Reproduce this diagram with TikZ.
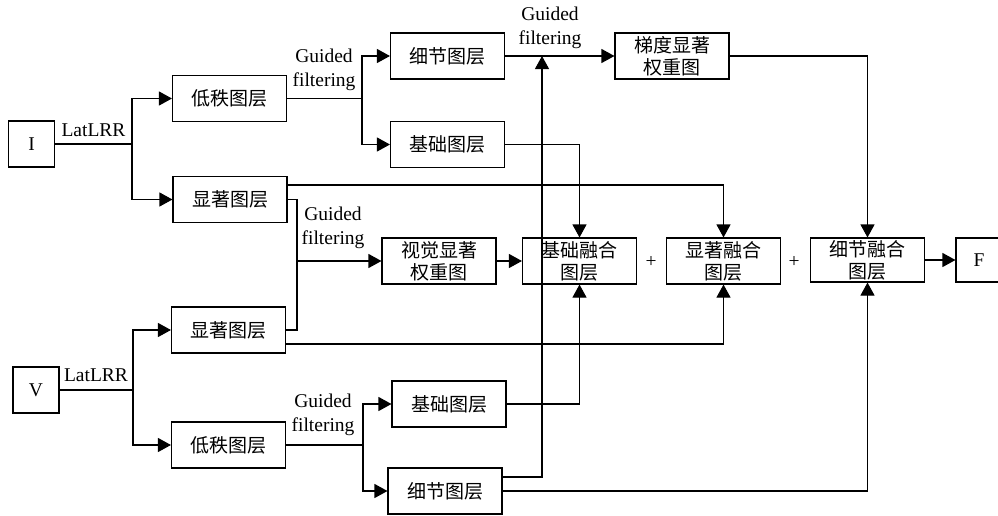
\documentclass[tikz,border=0pt]{standalone}
\usepackage{fontspec}
\setmainfont{Liberation Serif}
\newfontfamily\cjk{Noto Sans CJK SC}
\usetikzlibrary{arrows.meta}
\begin{document}
\begin{tikzpicture}[x=1pt,y=-1pt,
  every path/.style={line width=1.1pt},
  box/.style={draw, line width=1.1pt, inner sep=0pt, align=center,
    minimum height=46pt, minimum width=114pt,
    font=\cjk\fontsize{19}{22}\selectfont},
  sbox/.style={draw, line width=1.1pt, inner sep=0pt,
    minimum height=46pt, minimum width=46pt,
    font=\fontsize{19.5}{23}\selectfont},
  lbl/.style={font=\fontsize{19.5}{23.5}\selectfont, align=center, inner sep=0pt},
  arr/.style={-{Triangle[length=13pt,width=14pt]}}]
\useasboundingbox (0,0) rectangle (998,515);

% nodes
\node[sbox] (I) at (31.5,144) {I};
\node[sbox] (V) at (36,390) {V};
\node[box] (lowI) at (229.5,98.5) {低秩图层};
\node[box] (salI) at (230,199.5) {显著图层};
\node[box] (salV) at (228.5,330) {显著图层};
\node[box] (lowV) at (228.5,445) {低秩图层};
\node[box] (detI) at (447.5,56) {细节图层};
\node[box] (baseI) at (447.5,144.5) {基础图层};
\node[box] (baseV) at (449,404) {基础图层};
\node[box] (detV) at (445,491) {细节图层};
\node[box] (grad) at (672,56) {梯度显著\\权重图};
\node[box] (vis) at (439,261) {视觉显著\\权重图};
\node[box] (bfuse) at (579.5,261) {基础融合\\图层};
\node[box] (sfuse) at (723.5,261) {显著融合\\图层};
\node[box, minimum height=44pt] (dfuse) at (867.5,260) {细节融合\\图层};
\node[sbox, minimum height=44pt] (F) at (979,260) {F};

% labels
\node[lbl] (l1) at (93.5,130) {LatLRR};
\node[lbl] (l2) at (96,375) {LatLRR};
\node[lbl] (g1) at (324,70) {Guided\\filtering};
\node[lbl] (g2) at (333,228) {Guided\\filtering};
\node[lbl] (g3) at (323,415) {Guided\\filtering};
\node[lbl] (g4) at (550,28) {Guided\\filtering};
\node[lbl] (p1) at (651,262) {+};
\node[lbl] (p2) at (794,262) {+};

% split points
\coordinate (s1) at (132,144);
\coordinate (s2) at (133,390);
\coordinate (s3) at (362,98.5);
\coordinate (s4) at (363,445);
\coordinate (sp) at (297,261);
\coordinate (gj) at (542,56);

% connectors: I branch
\draw (I.east) -- (s1);
\draw[arr] (s1) |- (lowI.west);
\draw[arr] (s1) |- (salI.west);
\draw (lowI.east) -- (s3);
\draw[arr] (s3) |- (detI.west);
\draw[arr] (s3) |- (baseI.west);

% V branch
\draw (V.east) -- (s2);
\draw[arr] (s2) |- (salV.west);
\draw[arr] (s2) |- (lowV.west);
\draw (lowV.east) -- (s4);
\draw[arr] (s4) |- (baseV.west);
\draw[arr] (s4) |- (detV.west);

% saliency guided filtering
\draw (salI.east) -| (sp) |- (salV.east);
\draw[arr] (sp) -- (vis.west);
\draw[arr] (vis.east) -- (bfuse.west);

% detail guided filtering
\draw[arr] (detI.east) -- (grad.west);
\draw[arr] ([yshift=14pt]detV.east) -| (gj);

% to fusion
\draw[arr] (baseI.east) -| (bfuse.north);
\draw[arr] (baseV.east) -| (bfuse.south);
\draw[arr] ([yshift=14.5pt]salI.east) -| (sfuse.north);
\draw[arr] ([yshift=-14pt]salV.east) -| (sfuse.south);
\draw[arr] (grad.east) -| (dfuse.north);
\draw[arr] (detV.east) -| (dfuse.south);
\draw[arr] (dfuse.east) -- (F.west);
\end{tikzpicture}
\end{document}
